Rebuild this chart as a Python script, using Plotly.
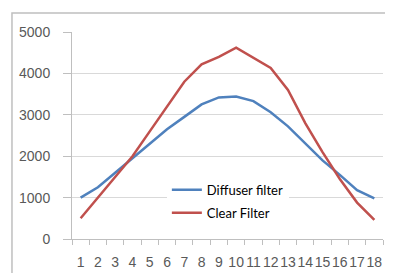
import plotly.graph_objects as go

categories = [str(i) for i in range(1, 19)]
diffuser = [1000, 1250, 1600, 1950, 2300, 2650, 2950, 3250, 3420, 3440, 3330, 3060, 2720, 2300, 1900, 1550, 1180, 980]
clear = [500, 1000, 1500, 2000, 2600, 3200, 3800, 4220, 4400, 4620, 4380, 4130, 3600, 2800, 2100, 1450, 880, 460]
y_ticks = [0, 1000, 2000, 3000, 4000, 5000]

fig = go.Figure()
fig.add_trace(go.Scatter(x=categories, y=diffuser, mode="lines", name="Diffuser filter",
                         legendgroup="a", line=dict(color="#4F81BD", width=2.5)))
fig.add_trace(go.Scatter(x=categories, y=clear, mode="lines", name="Clear Filter",
                         legendgroup="b", line=dict(color="#C0504D", width=2.5)))

tick_font = dict(family="Liberation Sans, sans-serif", size=14, color="#595959")

fig.update_layout(
    width=385, height=265,
    margin=dict(l=64, r=10, t=24, b=34, autoexpand=False),
    paper_bgcolor="white", plot_bgcolor="white",
    font=dict(family="Liberation Sans, sans-serif", size=14, color="#595959"),
    legend=dict(x=0.305, y=0.31, xanchor="left", yanchor="top", bgcolor="white",
                font=dict(family="Lato, sans-serif", size=13, color="black"),
                tracegroupgap=3, itemwidth=30),
    xaxis=dict(type="category", range=[-0.5, 17.5], dtick=1, showgrid=False, showline=True,
               linecolor="#BFBFBF", ticks="outside", tickcolor="#BFBFBF", ticklen=5,
               tickson="boundaries", tickangle=0, tickfont=tick_font, ticklabelstandoff=10,
               automargin=False),
    yaxis=dict(range=[0, 5000], tickvals=y_ticks, showgrid=True, gridcolor="#D9D9D9",
               showline=True, linecolor="#BFBFBF", ticks="outside", tickcolor="#BFBFBF",
               ticklen=8, zeroline=False, tickfont=tick_font, ticklabelstandoff=10,
               automargin=False),
    shapes=[dict(type="rect", xref="paper", yref="paper", x0=-0.193, x1=1.03, y0=-0.2, y1=1.092,
                 line=dict(color="#BFBFBF", width=1.5), layer="below")],
)

fig.write_html("out.html")
